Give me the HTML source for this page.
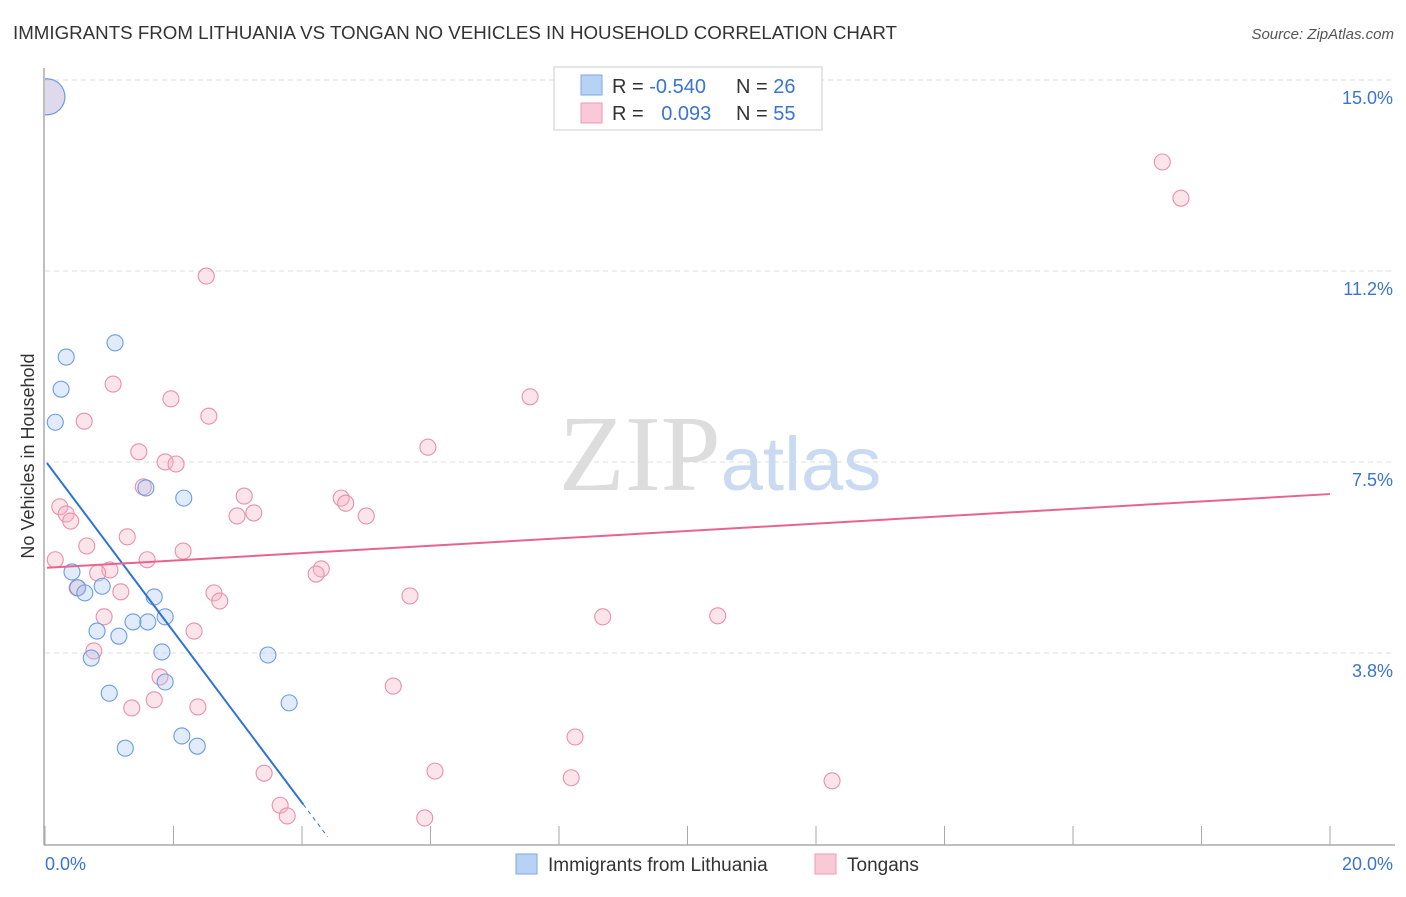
<!DOCTYPE html>
<html><head><meta charset="utf-8"><style>
body{margin:0;background:#fff;font-family:"Liberation Sans",sans-serif;}
</style></head><body>
<svg id="chart" width="1406" height="892" xmlns="http://www.w3.org/2000/svg" font-family="Liberation Sans, sans-serif">
<text x="13" y="39" font-size="18" fill="#333" textLength="884" lengthAdjust="spacingAndGlyphs">IMMIGRANTS FROM LITHUANIA VS TONGAN NO VEHICLES IN HOUSEHOLD CORRELATION CHART</text>
<text x="1394" y="39" font-size="15" fill="#555" text-anchor="end" font-style="italic">Source: ZipAtlas.com</text>
<text transform="translate(34,456) rotate(-90)" font-size="18" fill="#333" text-anchor="middle">No Vehicles in Household</text>
<text x="720" y="490" font-size="108" fill="#ddd" text-anchor="middle" font-family="Liberation Serif, serif">ZIP<tspan fill="#c9daf2" font-family="Liberation Sans, sans-serif" font-size="76">atlas</tspan></text>
<g id="grid"></g><g id="axes"></g>
<defs><clipPath id="plotclip"><rect x="45" y="60" width="1350" height="785"/></clipPath></defs>
<g id="marks" clip-path="url(#plotclip)"></g>
<g id="legend">
<rect x="554" y="67" width="268" height="63" fill="#fff" stroke="#ddd" stroke-width="1.5"/>
<rect x="581" y="75" width="21" height="20" fill="#b8d2f4" stroke="#7aaae6"/>
<rect x="581" y="103" width="21" height="20" fill="#fac9d8" stroke="#ef9bb5"/>
<text x="612" y="93" font-size="20" fill="#333">R = <tspan fill="#3a74d1">-0.540</tspan></text>
<text x="736" y="93" font-size="20" fill="#333">N = <tspan fill="#3a74d1">26</tspan></text>
<text x="612" y="120" font-size="20" fill="#333">R = <tspan fill="#3a74d1" dx="12">0.093</tspan></text>
<text x="736" y="120" font-size="20" fill="#333">N = <tspan fill="#3a74d1">55</tspan></text>
</g>
<g>
<rect x="516" y="854" width="21" height="20" fill="#b8d2f4" stroke="#7aaae6"/>
<text x="548" y="871" font-size="19" fill="#333">Immigrants from Lithuania</text>
<rect x="815" y="854" width="21" height="20" fill="#fac9d8" stroke="#ef9bb5"/>
<text x="847" y="871" font-size="19" fill="#333">Tongans</text>
</g>
</svg>
<script>
const yTicks=[3.75,7.5,11.25,15];
const yTickLabels=["3.8%","7.5%","11.2%","15.0%"];
const xTicks=[0,2,4,6,8,10,12,14,16,18,20];
const blueX=[0.03,0.33,1.09,0.25,0.16,1.57,2.16,0.42,0.51,0.62,0.89,1.70,1.87,1.37,1.60,0.81,1.15,1.82,0.72,3.47,1.00,1.87,3.80,2.13,2.37,1.25];
const blueY=[14.67,9.56,9.84,8.93,8.28,6.99,6.79,5.34,5.03,4.93,5.06,4.85,4.46,4.36,4.36,4.18,4.08,3.77,3.65,3.71,2.96,3.18,2.77,2.12,1.92,1.88];
const pinkX=[0.03,17.39,17.68,2.51,1.06,1.96,2.55,0.61,7.55,5.96,1.46,1.87,2.04,1.53,3.10,0.23,0.33,0.40,2.99,3.25,4.61,4.68,5.00,0.65,1.28,2.15,1.59,0.16,1.01,0.82,4.30,4.22,1.18,2.63,2.72,0.50,5.68,0.92,2.32,8.68,10.47,0.76,1.79,1.70,1.35,2.38,5.42,8.25,3.41,6.07,8.19,12.25,3.66,3.77,5.91];
const pinkY=[14.67,13.39,12.68,11.15,9.03,8.74,8.40,8.30,8.78,7.79,7.70,7.50,7.46,7.01,6.83,6.62,6.48,6.34,6.44,6.50,6.79,6.69,6.44,5.85,6.03,5.75,5.58,5.58,5.38,5.32,5.40,5.30,4.95,4.93,4.77,5.03,4.87,4.46,4.18,4.46,4.48,3.79,3.28,2.83,2.67,2.69,3.10,2.10,1.39,1.43,1.30,1.24,0.76,0.55,0.51];
const blueTrend=[7.53,-1.68,0.03,4.02,4.4];
const pinkTrend=[5.42,0.0725,0.03,20];
const X=v=>45+v*64.25, Y=v=>80+(15-v)*50.93;
const NS="http://www.w3.org/2000/svg";
function mk(t,a,p){const e=document.createElementNS(NS,t);for(const k in a)e.setAttribute(k,a[k]);p.appendChild(e);return e;}
const grid=document.getElementById('grid'),axes=document.getElementById('axes'),marks=document.getElementById('marks');
yTicks.forEach((v,i)=>{
 const l=mk('line',{x1:45,x2:1395,y1:Y(v),y2:Y(v),stroke:'#ddd','stroke-dasharray':'5,4'},grid);
 
 
 const t=mk('text',{x:1393,y:Y(v)+24,'font-size':18,fill:'#3a74d1','text-anchor':'end'},axes);
 t.textContent=yTickLabels[i];
 
 
});
const ax=mk('line',{x1:44,x2:44,y1:68,y2:845,stroke:'#aaa','stroke-width':1.5},axes);


const bx=mk('line',{x1:44,x2:1395,y1:845,y2:845,stroke:'#aaa','stroke-width':1.5},axes);


xTicks.forEach(v=>{
 const t=mk('line',{x1:X(v),x2:X(v),y1:826,y2:845,stroke:'#aaa'},axes);
 
 
});
const xl0=mk('text',{x:45,y:870,'font-size':18,fill:'#3a74d1'},axes);xl0.textContent='0.0%';


const xl1=mk('text',{x:1393,y:870,'font-size':18,fill:'#3a74d1','text-anchor':'end'},axes);xl1.textContent='20.0%';


function dots(xs,ys,fill,stroke,name){
 xs.forEach((x,i)=>{
  const r=i===0?18:8;
  const c=mk('circle',{cx:X(x),cy:Y(ys[i]),r:r,fill:fill,'fill-opacity':0.35,stroke:stroke,'stroke-width':1.1},marks);
  
  
 });
}
dots(pinkX,pinkY,'#f6b3c7','#ea90ad','tongan-point');
dots(blueX,blueY,'#a8c7f0','#6a9ee0','lithuania-point');
const bl=mk('line',{x1:X(blueTrend[2]),y1:Y(blueTrend[0]+blueTrend[1]*blueTrend[2]),x2:X(blueTrend[3]),y2:Y(blueTrend[0]+blueTrend[1]*blueTrend[3]),stroke:'#2f72d8','stroke-width':2},marks);


const bd=mk('line',{x1:X(blueTrend[3]),y1:Y(blueTrend[0]+blueTrend[1]*blueTrend[3]),x2:X(blueTrend[4]),y2:Y(blueTrend[0]+blueTrend[1]*blueTrend[4]),stroke:'#2f72d8','stroke-width':1,'stroke-dasharray':'4,4'},marks);


const pl=mk('line',{x1:X(pinkTrend[2]),y1:Y(pinkTrend[0]+pinkTrend[1]*pinkTrend[2]),x2:X(pinkTrend[3]),y2:Y(pinkTrend[0]+pinkTrend[1]*pinkTrend[3]),stroke:'#e8648f','stroke-width':2},marks);


</script>
</body></html>
